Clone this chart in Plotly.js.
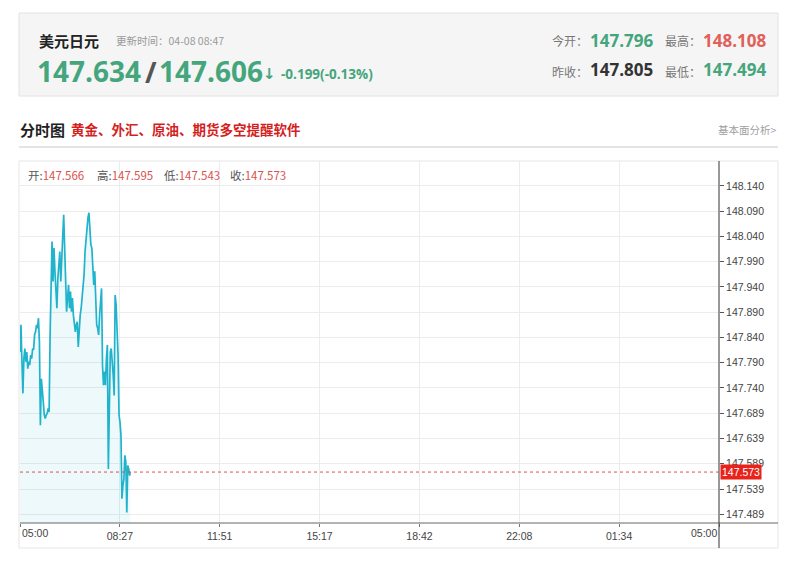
<!DOCTYPE html>
<html>
<head>
<meta charset="utf-8">
<script src="https://cdn.plot.ly/plotly-3.0.1.min.js"></script>
<style>
html,body{margin:0;padding:0;background:#fff;}
#chart{width:800px;height:565px;}
</style>
</head>
<body>
<div id="chart"></div>
<script>
// ---- data ----
const minutes = [0,2,4,6,8,10,12,14,16,18,20,22,24,26,28,30,32,34,36,38,40,42,44,46,48,50,52,54,56,58,60,62,64,66,68,70,72,74,76,78,80,82,84,86,88,90,92,94,96,98,100,102,104,106,108,110,112,114,116,118,120,122,124,126,128,130,132,134,136,138,140,142,144,146,148,150,152,154,156,158,160,162,164,166,168,170,172,174,176,178,180,182,184,186,188,190,192,194,196,198,200,202,204,206,208,210,212,214,216,218,220,222,224,226,227];
const prices = [147.811,147.865,147.792,147.729,147.798,147.818,147.792,147.811,147.778,147.792,
147.785,147.805,147.798,147.818,147.815,147.845,147.851,147.865,147.858,147.878,
147.831,147.666,147.758,147.725,147.712,147.686,147.679,147.686,147.689,147.699,
147.692,147.845,147.977,148.030,147.951,148.017,147.971,147.931,147.898,147.957,
147.997,148.010,147.951,147.991,148.030,148.083,148.017,147.944,147.891,147.918,
147.944,147.898,147.931,147.891,147.918,147.884,147.871,147.851,147.865,147.871,
147.821,147.865,147.884,147.898,147.918,147.937,147.964,148.010,148.037,148.063,
148.077,148.087,148.037,148.024,148.017,147.971,147.944,147.971,147.911,147.865,
147.858,147.845,147.884,147.904,147.937,147.785,147.745,147.772,147.745,147.798,
147.825,147.579,147.732,147.811,147.818,147.798,147.765,147.725,147.924,147.904,
147.845,147.805,147.686,147.672,147.646,147.520,147.546,147.559,147.606,147.593,
147.493,147.586,147.579,147.566,147.573];
const xTickVals = [0,205.7,411.4,617.1,822.9,1028.6,1234.3,1440];
const xTickText = ["05:00","08:27","11:51","15:17","18:42","22:08","01:34","05:00"];
const yTickVals = [147.4893,147.5394,147.5895,147.6395,147.6896,147.7397,147.7898,147.8398,147.8899,147.9400,147.9900,148.0401,148.0902,148.1402];
const yTickText = ["147.489","147.539","147.589","147.639","147.689","147.740","147.790","147.840","147.890","147.940","147.990","148.040","148.090","148.140"];
const lastPrice = 147.573;
const ohlc = [["开:","147.566"],["高:","147.595"],["低:","147.543"],["收:","147.573"]];
const header = {name:"美元日元", update:"更新时间：04-08 08:47", bid:"147.634", ask:"147.606", change:"-0.199(-0.13%)",
  open:"147.796", high:"148.108", prevClose:"147.805", low:"147.494"};

// ---- layout helpers (pixel -> paper) ----
const L=20, R=719, T=161, B=523;
const X = px => (px-L)/(R-L);
const Y = py => (B-py)/(B-T);
const CJK = '"Noto Sans CJK SC", "Noto Sans", sans-serif';
const NUM = '"Open Sans", "Liberation Sans", sans-serif';
const GREEN = '#45a57c', RED = '#e0605a';

function ann(px, py, text, size, color, anchor, family){
  return {xref:'paper', yref:'paper', x:X(px), y:Y(py), text:text, showarrow:false,
    xanchor:anchor||'left', yanchor:'middle', font:{size:size, color:color, family:family||CJK}};
}

const annotations = [
  ann(37, 40, '<b>'+header.name+'</b>', 15, '#222'),
  ann(114, 41, header.update, 10.5, '#9a9a9a'),
  ann(35, 71, '<b>'+header.bid+'</b>', 28, GREEN, 'left', NUM),
  ann(143, 72, '<b>/</b>', 28, '#555', 'left', NUM),
  ann(157, 71, '<b>'+header.ask+'</b>', 28, GREEN, 'left', NUM),
  ann(261, 74, '<b>↓</b>', 15, GREEN, 'left', '"DejaVu Sans", sans-serif'),
  ann(279, 74, '<b>'+header.change+'</b>', 13.5, GREEN, 'left', NUM),
  ann(550, 41, '今开：', 12, '#777'),
  ann(588, 40, '<b>'+header.open+'</b>', 17, GREEN, 'left', NUM),
  ann(663, 41, '最高：', 12, '#777'),
  ann(701, 40, '<b>'+header.high+'</b>', 17, RED, 'left', NUM),
  ann(550, 71, '昨收：', 12, '#777'),
  ann(588, 70, '<b>'+header.prevClose+'</b>', 17, '#333', 'left', NUM),
  ann(663, 71, '最低：', 12, '#777'),
  ann(701, 70, '<b>'+header.low+'</b>', 17, GREEN, 'left', NUM),
  ann(18, 130, '<b>分时图</b>', 15, '#222'),
  ann(69, 129, '<b>黄金、外汇、原油、期货多空提醒软件</b>', 13.5, '#d41f1f'),
  ann(779, 129, '基本面分析>', 10.5, '#a0a0a0', 'right'),
  // x end labels
  {xref:'x', yref:'paper', x:xTickVals[0], y:Y(533), text:xTickText[0], showarrow:false, xanchor:'left', yanchor:'middle',
    font:{size:10.5, color:'#444', family:'"Liberation Sans", sans-serif'}},
  {xref:'x', yref:'paper', x:xTickVals[xTickVals.length-1], y:Y(533), text:xTickText[xTickText.length-1], showarrow:false, xanchor:'right', yanchor:'middle',
    font:{size:10.5, color:'#444', family:'"Liberation Sans", sans-serif'}},
  // last price tag
  {xref:'paper', yref:'y', x:X(720), y:lastPrice, text:lastPrice.toFixed(3), showarrow:false, xanchor:'left', yanchor:'middle',
    bgcolor:'#e8231b', borderpad:1, font:{size:10.5, color:'#fff', family:'"Liberation Sans", sans-serif'}}
];
const ohlcX = [26, 95, 162, 228];
ohlc.forEach((p,i)=>{
  annotations.push(ann(ohlcX[i], 175, '<span style="color:#555">'+p[0]+'</span><span style="color:#d9534f">'+p[1]+'</span>', 11.5, '#555'));
});

const shapes = [
  {type:'rect', xref:'paper', yref:'paper', x0:X(19), x1:X(778), y0:Y(96), y1:Y(13), fillcolor:'#f5f5f5', line:{color:'#e2e2e2', width:1}, layer:'below'},
  {type:'line', xref:'paper', yref:'paper', x0:X(19), x1:X(778), y0:Y(147), y1:Y(147), line:{color:'#e4e4e4', width:2}},
  {type:'rect', xref:'paper', yref:'paper', x0:X(19), x1:X(778), y0:Y(548), y1:Y(161), line:{color:'#e6e6e6', width:1}, layer:'below'},
  {type:'line', xref:'paper', yref:'paper', x0:X(20), x1:X(778), y0:0, y1:0, line:{color:'#666', width:1}},
  {type:'line', xref:'paper', yref:'paper', x0:1, x1:1, y0:Y(548), y1:1, line:{color:'#333', width:1}},
  {type:'line', xref:'paper', yref:'y', x0:0, x1:1, y0:lastPrice, y1:lastPrice, line:{color:'#e05050', width:1, dash:'dot'}}
];

const trace = {
  x: minutes, y: prices, type:'scatter', mode:'lines',
  line:{color:'#1fb3cc', width:1.7},
  fill:'tozeroy', fillcolor:'rgba(31,179,204,0.08)',
  hoverinfo:'skip'
};

const layout = {
  width:800, height:565,
  margin:{l:L, r:800-R, t:T, b:565-B, pad:0},
  paper_bgcolor:'#fff', plot_bgcolor:'#fff',
  showlegend:false,
  xaxis:{range:[0,1440], tickvals:xTickVals, ticktext:["",xTickText[1],xTickText[2],xTickText[3],xTickText[4],xTickText[5],xTickText[6],""],
    showgrid:true, gridcolor:'#e8edf0', gridwidth:1, zeroline:false, showline:false,
    ticks:'outside', ticklen:3, tickcolor:'#777', tickfont:{size:10.5, color:'#444', family:'"Liberation Sans", sans-serif'}, fixedrange:true},
  yaxis:{range:[147.472,148.1896], side:'right', tickvals:yTickVals, ticktext:yTickText,
    showgrid:true, gridcolor:'#ececec', gridwidth:1, zeroline:false, showline:false,
    ticks:'outside', ticklen:4, tickcolor:'#555', tickfont:{size:10.5, color:'#444', family:'"Liberation Sans", sans-serif'}, fixedrange:true},
  annotations: annotations,
  shapes: shapes
};

Plotly.newPlot('chart', [trace], layout, {displayModeBar:false, staticPlot:true});
</script>
</body>
</html>
